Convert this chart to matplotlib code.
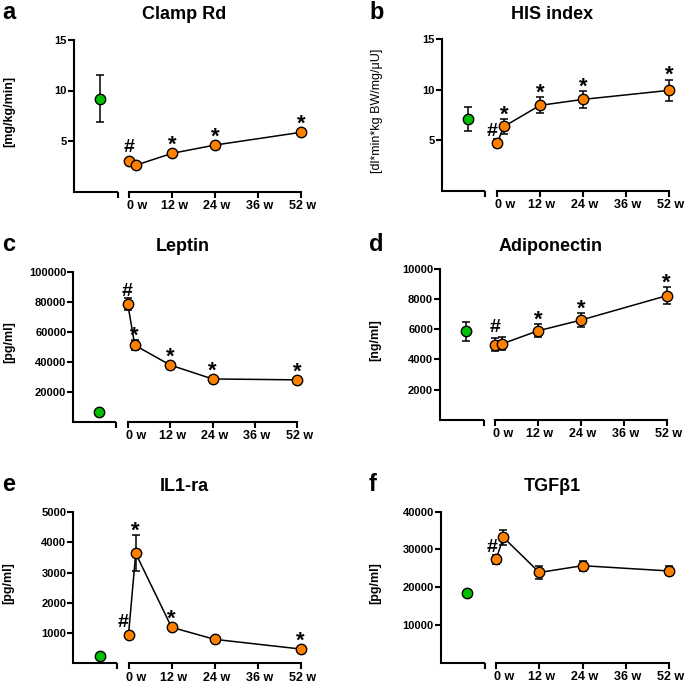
import numpy as np
import matplotlib
matplotlib.use("Agg")
import matplotlib.pyplot as plt
import matplotlib.transforms as mtransforms

plt.rcParams['font.family'] = ['Liberation Sans', 'DejaVu Sans']

ORANGE = '#FF8000'
GREEN = '#00BF00'

# x positions in weeks (52 w sits on the 48 slot of the axis)
week_pos = [0, 2, 12, 24, 48]
tick_pos = [0, 12, 24, 36, 48]
tick_labels = ['0 w', '12 w', '24 w', '36 w', '52 w']
ctrl_pos = -8
break_at = -3.2
x_left = -15.4

# a: Clamp Rd
rd_ctrl, rd_ctrl_err = 9.2, 2.3
rd_vals = [3.05, 2.62, 3.78, 4.6, 5.86]
rd_err = [0.2, 0.2, 0.25, 0.25, 0.2]
rd_marks = ['#', '', '*', '*', '*']
rd_ticks = [5, 10, 15]

# b: HIS index
his_ctrl, his_ctrl_err = 7.1, 1.15
his_vals = [4.72, 6.37, 8.45, 9.04, 9.93]
his_err = [0.4, 0.7, 0.78, 0.85, 1.07]
his_marks = ['#', '*', '*', '*', '*']
his_ticks = [5, 10, 15]

# c: Leptin
lep_ctrl, lep_ctrl_err = 6500, 800
lep_vals = [78700, 51000, 37800, 28500, 27900]
lep_err = [4000, 3500, 1500, 1500, 1500]
lep_marks = ['#', '*', '*', '*', '*']
lep_ticks = [20000, 40000, 60000, 80000, 100000]

# d: Adiponectin
adi_ctrl, adi_ctrl_err = 5880, 630
adi_vals = [4990, 5040, 5900, 6610, 8230]
adi_err = [420, 420, 440, 450, 580]
adi_marks = ['#', '', '*', '*', '*']
adi_ticks = [2000, 4000, 6000, 8000, 10000]

# e: IL1-ra
il_ctrl, il_ctrl_err = 250, 60
il_vals = [950, 3640, 1190, 790, 470]
il_err = [60, 600, 80, 60, 50]
il_marks = ['#', '*', '*', '', '*']
il_ticks = [1000, 2000, 3000, 4000, 5000]

# f: TGFb1
tgf_ctrl, tgf_ctrl_err = 18400, 600
tgf_vals = [27400, 33200, 23900, 25700, 24300]
tgf_err = [1200, 2000, 1600, 1300, 1200]
tgf_marks = ['#', '', '', '', '']
tgf_ticks = [10000, 20000, 30000, 40000]

W, H = 685, 683
fig = plt.figure(figsize=(W / 100, H / 100), dpi=100)


def px_to_pt(px):
    return px * 72 / fig.dpi


panels = [
    # letter, title, ylabel, bold label, ctrl, ctrl err, vals, err, marks, ticks, hash dx, box(l, t, r, b), title baseline
    ('a', 'Clamp Rd', '[mg/kg/min]', True, rd_ctrl, rd_ctrl_err, rd_vals, rd_err, rd_marks, rd_ticks, 0,
     (74, 40, 301, 191.5), 19),
    ('b', 'HIS index', '[dl*min*kg BW/mg/\u03bcU]', False, his_ctrl, his_ctrl_err, his_vals, his_err, his_marks,
     his_ticks, -5, (441.7, 39, 669, 191), 19),
    ('c', 'Leptin', '[pg/ml]', True, lep_ctrl, lep_ctrl_err, lep_vals, lep_err, lep_marks, lep_ticks, -1,
     (73.3, 271.7, 297.3, 421.7), 251),
    ('d', 'Adiponectin', '[ng/ml]', True, adi_ctrl, adi_ctrl_err, adi_vals, adi_err, adi_marks, adi_ticks, 0,
     (440, 269, 666.7, 419.8), 251),
    ('e', 'IL1-ra', '[pg/ml]', True, il_ctrl, il_ctrl_err, il_vals, il_err, il_marks, il_ticks, -5,
     (73.3, 512.3, 300.7, 663.2), 491),
    ('f', 'TGF\u03b21', '[pg/ml]', True, tgf_ctrl, tgf_ctrl_err, tgf_vals, tgf_err, tgf_marks, tgf_ticks, -4,
     (440.7, 511.7, 669, 662.7), 491),
]

for (letter, title, ylabel, bold_label, ctrl, ctrl_err, vals, err, marks, ticks,
     hash_dx, box, base_y) in panels:
    l, t, r, b = box
    ax = fig.add_axes([l / W, 1 - b / H, (r - l) / W, (b - t) / H])
    ax.set_xlim(x_left, 48)
    ax.set_ylim(0, ticks[-1])

    # axes styling (broken x axis)
    for s in ['top', 'right']:
        ax.spines[s].set_visible(False)
    ax.spines['left'].set_linewidth(1.5)
    ax.spines['bottom'].set_linewidth(1.5)
    ax.spines['bottom'].set_bounds(0, 48)
    ax.plot([x_left, break_at], [0, 0], color='k', lw=1.5, clip_on=False, solid_capstyle='butt')

    ax.set_xticks(tick_pos, labels=tick_labels, fontsize=9, fontweight='bold')
    ax.set_xticks([break_at], minor=True)
    ax.tick_params(axis='x', which='both', length=4, width=1.5, pad=2)
    # labels sit a little right of their ticks in the original
    for i, lab in enumerate(ax.get_xticklabels()):
        shift = 8 if i == 0 else 2
        lab.set_transform(lab.get_transform() + mtransforms.ScaledTranslation(shift / 100, 0, fig.dpi_scale_trans))
    ax.set_yticks(ticks, labels=[str(v) for v in ticks], fontsize=8, fontweight='bold')
    ax.tick_params(axis='y', length=4, width=1.5, pad=1)

    # control group
    ax.errorbar([ctrl_pos], [ctrl], yerr=[ctrl_err], fmt='none', ecolor='k', elinewidth=1.1,
                capsize=3, capthick=1.1, zorder=2)
    ax.plot([ctrl_pos], [ctrl], 'o', ms=7.5, mfc=GREEN, mec='k', mew=1.0, zorder=4)

    # time course
    eb = ax.errorbar(week_pos, vals, yerr=err, fmt='none', ecolor='k', elinewidth=1.1,
                     capsize=3, capthick=1.1, zorder=2)
    for art in eb.lines[1] + eb.lines[2]:
        art.set_clip_on(False)
    ax.plot(week_pos, vals, color='k', lw=1.1, zorder=3, clip_on=False)
    ax.plot(week_pos, vals, 'o', ms=7.5, mfc=ORANGE, mec='k', mew=1.0, zorder=4, clip_on=False)

    # significance marks
    for x, v, e, m in zip(week_pos, vals, err, marks):
        if not m:
            continue
        cy = ax.transData.transform((x, v))[1]
        ty = ax.transData.transform((x, v + e))[1]
        if m == '*':
            dx, dy, base, fs = 0, max(ty - cy + 11, 15), 12.5, 16
        else:
            dx = hash_dx
            dy = 14 if hash_dx else max(ty - cy + 13, 15)
            base, fs = 6.8, 14
        ax.annotate(m, (x, v), xytext=(px_to_pt(dx), px_to_pt(dy - base)), textcoords='offset points',
                    ha='center', va='baseline', fontsize=fs, fontweight='bold', annotation_clip=False)

    ax.text(-0.285, 0.53, ylabel, transform=ax.transAxes, rotation=90, ha='center', va='center',
            fontsize=9, fontweight='bold' if bold_label else 'normal')

    fig.text((l + r) / 2 / W - 3 / W, 1 - base_y / H, title, ha='center', va='baseline',
             fontsize=13, fontweight='bold')
    fig.text((2 if l < 300 else 369) / W, 1 - base_y / H, letter, ha='left', va='baseline',
             fontsize=17, fontweight='bold')

fig.savefig('out.png', dpi=100)
